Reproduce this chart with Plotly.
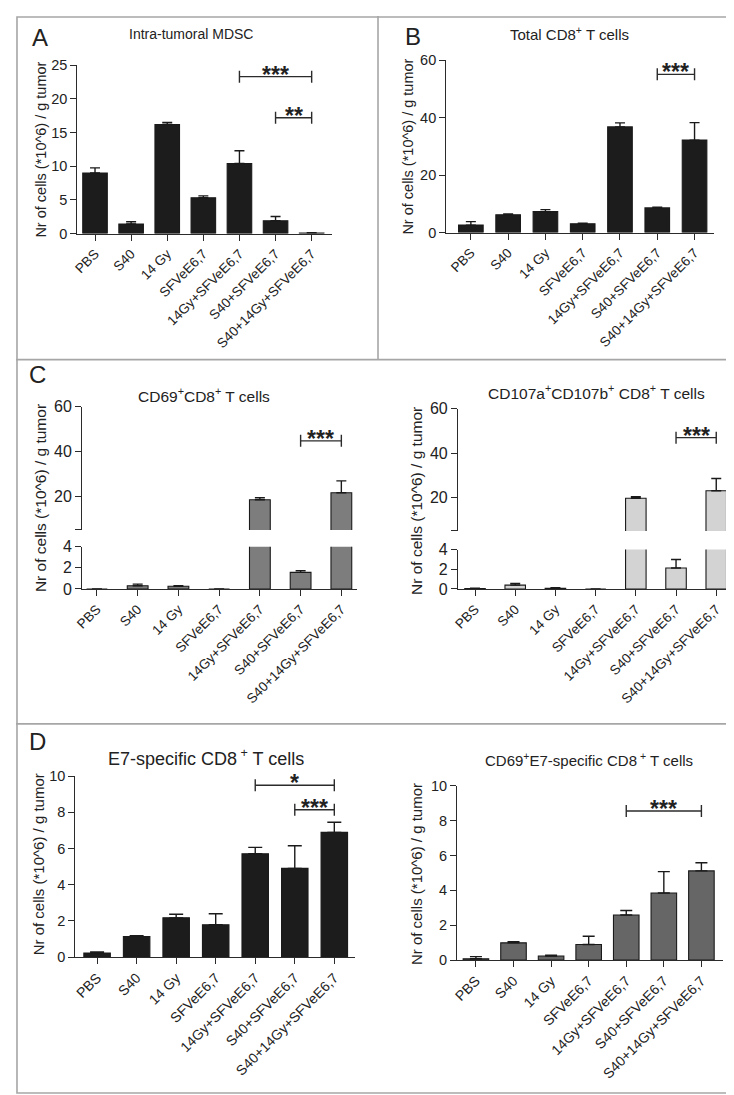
import plotly.graph_objects as go

# ---------------- data ----------------
categories = ["PBS", "S40", "14 Gy", "SFVeE6,7", "14Gy+SFVeE6,7",
              "S40+SFVeE6,7", "S40+14Gy+SFVeE6,7"]

mdsc_mean = [9.0, 1.42, 16.2, 5.32, 10.4, 1.9, 0.08]
mdsc_sem = [0.75, 0.34, 0.3, 0.28, 1.9, 0.64, 0.04]
mdsc_sig_from = [4, 5]
mdsc_sig_to = [6, 6]
mdsc_sig_y = [23.3, 17.2]
mdsc_sig_label = ["***", "**"]

cd8_mean = [2.6, 6.2, 7.3, 3.1, 36.8, 8.6, 32.2]
cd8_sem = [1.2, 0.3, 0.7, 0.2, 1.4, 0.2, 6.1]
cd8_sig_from = [5]
cd8_sig_to = [6]
cd8_sig_y = [55.1]
cd8_sig_label = ["***"]

cd69_mean = [0.0, 0.31, 0.25, 0.0, 18.5, 1.57, 21.6]
cd69_sem = [0.0, 0.15, 0.06, 0.0, 0.9, 0.16, 5.3]
cd69_sig_from = [5]
cd69_sig_to = [6]
cd69_sig_y = [44.8]
cd69_sig_label = ["***"]

cd107_mean = [0.05, 0.39, 0.07, 0.0, 19.7, 2.13, 23.1]
cd107_sem = [0.02, 0.17, 0.06, 0.0, 0.7, 0.87, 5.5]
cd107_sig_from = [5]
cd107_sig_to = [6]
cd107_sig_y = [47.0]
cd107_sig_label = ["***"]

e7_mean = [0.23, 1.14, 2.17, 1.79, 5.71, 4.9, 6.89]
e7_sem = [0.06, 0.04, 0.2, 0.61, 0.35, 1.25, 0.56]
e7_sig_from = [4, 5]
e7_sig_to = [6, 6]
e7_sig_y = [9.49, 8.14]
e7_sig_label = ["*", "***"]

cd69e7_mean = [0.08, 0.99, 0.24, 0.9, 2.59, 3.85, 5.12]
cd69e7_sem = [0.12, 0.06, 0.04, 0.47, 0.26, 1.23, 0.47]
cd69e7_sig_from = [4]
cd69e7_sig_to = [6]
cd69e7_sig_y = [8.56]
cd69e7_sig_label = ["***"]

# ---------------- layout helpers ----------------
W, H = 734, 1095
FONT = "Arial, Liberation Sans, sans-serif"
AXC = "#2b2b2b"
TXT = "#222222"


def xd(px):
    return px / W


def yd(py):
    return 1 - py / H


fig = go.Figure()
layout = {}
shapes = []
annotations = []


def ax_name(kind, n):
    return f"{kind}axis" if n == 1 else f"{kind}axis{n}"


def ref(kind, n):
    return kind if n == 1 else f"{kind}{n}"


def add_axes(n, xpx, xr, ypx, yr, ytickvals, yticktext=None, tfs=14.5,
             show_x=True, xfs=13.5):
    layout[ax_name("x", n)] = dict(
        domain=[xd(xpx[0]), xd(xpx[1])], range=xr, anchor=ref("y", n),
        tickmode="array", tickvals=list(range(len(categories))),
        ticktext=categories, tickangle=-45, ticks="outside", ticklen=6,
        tickwidth=1.3, tickcolor=AXC, showline=True, linecolor=AXC,
        linewidth=1.3, showgrid=False, zeroline=False, visible=show_x,
        tickfont=dict(family=FONT, size=xfs, color=TXT))
    layout[ax_name("y", n)] = dict(
        domain=[yd(ypx[0]), yd(ypx[1])], range=yr, anchor=ref("x", n),
        tickmode="array", tickvals=ytickvals,
        ticktext=yticktext if yticktext else [str(v) for v in ytickvals],
        ticks="outside", ticklen=6, tickwidth=1.3, tickcolor=AXC,
        showline=True, linecolor=AXC, linewidth=1.3, showgrid=False,
        zeroline=False, tickfont=dict(family=FONT, size=tfs, color=TXT))


def add_bars(n, mean, sem, fill, bw, edge="#1a1a1a", capw=5):
    fig.add_trace(go.Bar(
        x=list(range(len(categories))), y=mean, width=bw,
        marker=dict(color=fill, line=dict(color=edge, width=1.1)),
        error_y=dict(type="data", array=sem, arrayminus=[0] * len(sem),
                     symmetric=False, color="#1a1a1a", thickness=1.4,
                     width=capw),
        xaxis=ref("x", n), yaxis=ref("y", n), showlegend=False,
        hoverinfo="skip"))


def add_sig(n, froms, tos, ys, labels, sfs=23):
    for a, b, h, lab in zip(froms, tos, ys, labels):
        xr_, yr_ = ref("x", n), ref("y", n)
        shapes.append(dict(type="line", xref=xr_, yref=yr_, x0=a, x1=b,
                           y0=h, y1=h, line=dict(color=AXC, width=1.4)))
        for xx in (a, b):
            shapes.append(dict(type="line", xref=xr_, yref=yr_,
                               ysizemode="pixel", yanchor=h, y0=-6, y1=6,
                               x0=xx, x1=xx, line=dict(color=AXC, width=1.4)))
        annotations.append(dict(text=f"<b>{lab}</b>", x=(a + b) / 2, y=h,
                                xref=xr_, yref=yr_, xanchor="center",
                                yanchor="middle", yshift=2, showarrow=False,
                                font=dict(family=FONT, size=sfs, color=TXT)))


def add_text(txt, px, py, size, angle=0):
    annotations.append(dict(text=txt, x=xd(px), y=yd(py), xref="paper",
                            yref="paper", xanchor="center", yanchor="middle",
                            showarrow=False, textangle=angle,
                            font=dict(family=FONT, size=size, color=TXT)))


YLAB = "Nr of cells (*10^6) / g tumor"

# ---- Panel A ----
add_axes(1, (62, 319), [-0.49, 6.55], (221, 50), [0, 25], [0, 5, 10, 15, 20, 25])
add_bars(1, mdsc_mean, mdsc_sem, "#1c1c1c", 0.68)
add_sig(1, mdsc_sig_from, mdsc_sig_to, mdsc_sig_y, mdsc_sig_label)
add_text("Intra-tumoral MDSC", 177, 18, 14)
add_text(YLAB, 25, 136, 14.5, -90)
add_text("A", 24, 22, 24)

# ---- Panel B ----
add_axes(2, (435, 706), [-0.66, 6.53], (220, 45), [0, 60], [0, 20, 40, 60])
add_bars(2, cd8_mean, cd8_sem, "#1c1c1c", 0.66)
add_sig(2, cd8_sig_from, cd8_sig_to, cd8_sig_y, cd8_sig_label)
add_text("Total CD8<sup>+</sup> T cells", 560, 18, 15)
add_text(YLAB, 396, 133, 14.5, -90)
add_text("B", 401, 21, 24)

# ---- Panel C left (broken axis) ----
add_axes(3, (67, 345), [-0.36, 6.39], (582, 539), [0, 4], [0, 2, 4], tfs=16)
add_axes(4, (67, 345), [-0.36, 6.39], (522, 397), [5, 60], [5, 20, 40, 60],
         ["", "20", "40", "60"], tfs=16, show_x=False)
add_bars(3, cd69_mean, cd69_sem, "#7d7d7d", 0.51)
add_bars(4, cd69_mean, cd69_sem, "#7d7d7d", 0.51)
add_sig(4, cd69_sig_from, cd69_sig_to, cd69_sig_y, cd69_sig_label)
add_text("CD69<sup>+</sup>CD8<sup>+</sup> T cells", 190, 385, 15.5)
add_text(YLAB, 25, 490, 15.5, -90)
add_text("C", 22, 364, 24)

# ---- Panel C right (broken axis) ----
add_axes(5, (447, 723), [-0.42, 6.37], (582, 542), [0, 4], [0, 2, 4], tfs=16)
add_axes(6, (447, 723), [-0.42, 6.37], (523, 399), [5, 60], [5, 20, 40, 60],
         ["", "20", "40", "60"], tfs=16, show_x=False)
add_bars(5, cd107_mean, cd107_sem, "#d3d3d3", 0.51)
add_bars(6, cd107_mean, cd107_sem, "#d3d3d3", 0.51)
add_sig(6, cd107_sig_from, cd107_sig_to, cd107_sig_y, cd107_sig_label)
add_text("CD107a<sup>+</sup>CD107b<sup>+</sup> CD8<sup>+</sup> T cells", 587, 382, 15.5)
add_text(YLAB, 405, 493, 15.5, -90)

# ---- Panel D left ----
add_axes(7, (60, 343), [-0.55, 6.53], (956, 772), [0, 10], [0, 2, 4, 6, 8, 10],
         tfs=14.5, xfs=14)
add_bars(7, e7_mean, e7_sem, "#1c1c1c", 0.67, capw=7)
add_sig(7, e7_sig_from, e7_sig_to, e7_sig_y, e7_sig_label)
add_text("E7-specific CD8<sup> +</sup> T cells", 192, 753, 18)
add_text(YLAB, 23, 862, 15, -90)
add_text("D", 22, 737, 24)

# ---- Panel D right ----
add_axes(8, (446, 715), [-0.5, 6.58], (959, 782), [0, 10], [0, 2, 4, 6, 8, 10],
         tfs=14.5, xfs=14)
add_bars(8, cd69e7_mean, cd69e7_sem, "#666666", 0.68, capw=6)
add_sig(8, cd69e7_sig_from, cd69e7_sig_to, cd69e7_sig_y, cd69e7_sig_label)
add_text("CD69<sup>+</sup>E7-specific CD8<sup> +</sup> T cells", 579, 755, 15)
add_text(YLAB, 405, 872, 15, -90)

# ---- panel frames ----
FR = "#a6a6a6"
shapes.append(dict(type="rect", xref="paper", yref="paper", x0=xd(1), x1=xd(733),
                   y0=yd(1094), y1=yd(1), line=dict(color=FR, width=1.6)))
shapes.append(dict(type="line", xref="paper", yref="paper", x0=xd(366), x1=xd(366),
                   y0=yd(349), y1=yd(0), line=dict(color=FR, width=1.6)))
shapes.append(dict(type="line", xref="paper", yref="paper", x0=0, x1=1,
                   y0=yd(349), y1=yd(349), line=dict(color=FR, width=1.6)))
shapes.append(dict(type="line", xref="paper", yref="paper", x0=0, x1=1,
                   y0=yd(719), y1=yd(719), line=dict(color=FR, width=1.6)))

fig.update_layout(
    width=W, height=H, margin=dict(l=0, r=0, t=0, b=0),
    paper_bgcolor="white", plot_bgcolor="white", showlegend=False,
    barmode="overlay", shapes=shapes, annotations=annotations,
    font=dict(family=FONT, color=TXT), **layout)

fig.write_html("out.html")
